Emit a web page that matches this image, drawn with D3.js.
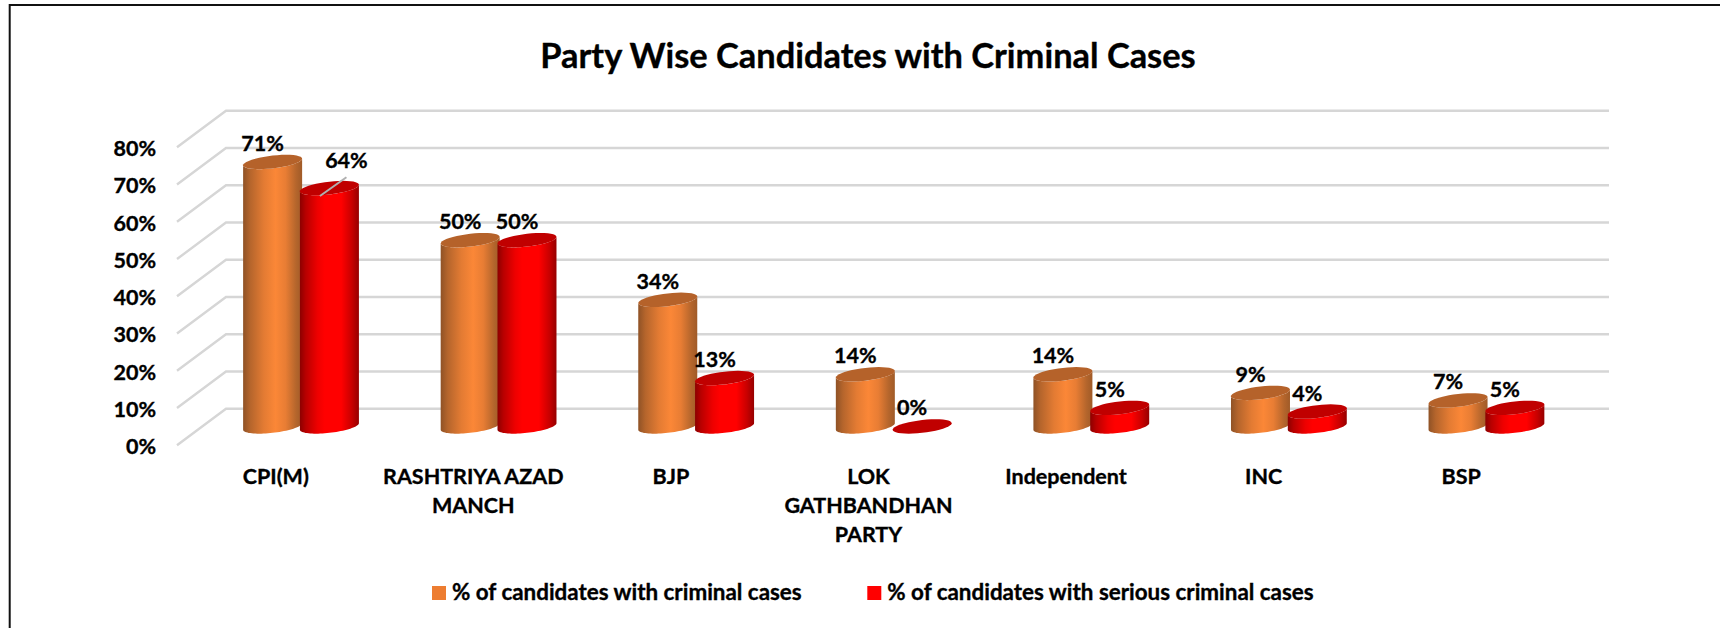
<!DOCTYPE html>
<html>
<head>
<meta charset="utf-8">
<script src="https://cdn.jsdelivr.net/npm/d3@7"></script>
<style>
    html, body { margin: 0; padding: 0; background: #fff; }
    svg { display: block; }
    text { font-family: Lato, "Open Sans", sans-serif; font-weight: 700; fill: #000; stroke: #000; stroke-width: 0.35px; }
</style>
</head>
<body>
<svg id="chart" width="1720" height="628"></svg>
<script>
const categories = ["CPI(M)", "RASHTRIYA AZAD MANCH", "BJP", "LOK GATHBANDHAN PARTY", "Independent", "INC", "BSP"];
const categoryLines = [["CPI(M)"], ["RASHTRIYA AZAD", "MANCH"], ["BJP"], ["LOK", "GATHBANDHAN", "PARTY"], ["Independent"], ["INC"], ["BSP"]];
const criminalCases = [71, 50, 34, 14, 14, 9, 7];
const seriousCases = [64, 50, 13, 0, 5, 4, 5];
const yTicks = [0, 10, 20, 30, 40, 50, 60, 70, 80];
const seriesNames = ["% of candidates with criminal cases", "% of candidates with serious criminal cases"];

const svg = d3.select("#chart");

// frame: only the top and left edges show in the picture
svg.append("path").attr("d", "M9.7,628V5H1720").attr("fill", "none").attr("stroke", "#111").attr("stroke-width", 2);

svg.append("text")
    .attr("x", 868).attr("y", 68)
    .attr("text-anchor", "middle")
    .style("font-size", "34.4px")
    .text("Party Wise Candidates with Criminal Cases");

// front plane of the 3d box, the back wall is that plane moved by depth
const depth = {x: 49, y: -36.6};
const x = d3.scaleBand().domain(categories).range([177, 1560]);
const y = d3.scaleLinear().domain([0, 80]).range([445.3, 147.3]);

const grid = svg.append("g").attr("fill", "none").attr("stroke", "#d6d6d6").attr("stroke-width", 2.4);
grid.selectAll("path")
    .data(yTicks)
    .enter()
    .append("path")
    .attr("d", d => `M${x.range()[0]},${y(d)}l${depth.x},${depth.y}L${x.range()[1] + depth.x},${y(d) + depth.y}`);

const yAxis = d3.axisLeft(y).tickValues(yTicks).tickFormat(d => d + "%").tickSize(0).tickPadding(21);
svg.append("g")
    .attr("transform", `translate(${x.range()[0]},0)`)
    .call(yAxis)
    .call(g => g.select(".domain").remove())
    .call(g => g.selectAll("text").attr("dy", "0.39em").style("font-size", "21.5px"));

// gradients for the cylinder sides
const defs = svg.append("defs");
function addGradient(id, stops) {
    defs.append("linearGradient").attr("id", id)
        .selectAll("stop")
        .data(stops)
        .enter()
        .append("stop")
        .attr("offset", d => d[0])
        .attr("stop-color", d => d[1]);
}
addGradient("side-orange", [[0, "#8f5226"], [0.12, "#b5652c"], [0.35, "#e37b33"], [0.55, "#fb8737"], [0.72, "#e87d34"], [0.9, "#b4652c"], [1, "#a05b28"]]);
addGradient("side-red", [[0, "#8c0000"], [0.1, "#b80000"], [0.3, "#ee0000"], [0.42, "#ff0000"], [0.7, "#ff0000"], [0.88, "#c80000"], [1, "#960000"]]);

const barDepth = 0.515;
const barWidth = 59;
const rx = barWidth / 2, ry = 6.4, tilt = 3.3;
const series = [
    {name: seriesNames[0], values: criminalCases, side: "url(#side-orange)", top: "#b5622a", offset: -28.4},
    {name: seriesNames[1], values: seriousCases, side: "url(#side-red)", top: "#c00000", offset: 28.4}
];
const ellipse = d3.line().x(d => d[0]).y(d => d[1]);

function arcPoints(cx, cy, from, to) {
    return d3.range(0, 41).map(i => {
        const t = from + (to - from) * i / 40;
        return [cx + rx * Math.cos(t), cy + ry * Math.sin(t) - tilt * Math.cos(t)];
    });
}

function barCenter(cat, s) {
    return x(cat) + x.bandwidth() / 2 + barDepth * depth.x + s.offset;
}

series.forEach(s => {
    const bars = svg.append("g");
    s.values.forEach((v, i) => {
        const cx = barCenter(categories[i], s);
        const base = y(0) + barDepth * depth.y;
        const top = y(v) + barDepth * depth.y;
        if (v > 0) {
            const sidePts = arcPoints(cx, base, 0, Math.PI).concat(arcPoints(cx, top, Math.PI, 0));
            bars.append("path").attr("d", ellipse(sidePts) + "Z").attr("fill", s.side);
        }
        bars.append("path").attr("d", ellipse(arcPoints(cx, top, 0, 2 * Math.PI)) + "Z").attr("fill", s.top);
    });
});

// data labels sit up and left of each bar top, the 64% one was dragged out in the original
const labels = svg.append("g").attr("text-anchor", "middle").style("font-size", "21.5px");
series.forEach(s => {
    s.values.forEach((v, i) => {
        const moved = s === series[1] && i === 0;
        labels.append("text")
            .attr("x", barCenter(categories[i], s) + (moved ? 17 : -10))
            .attr("y", y(v) + barDepth * depth.y + (moved ? -20.5 : -11))
            .text(v + "%");
    });
});

// leader line of the moved label
const leadX = barCenter(categories[0], series[1]);
const leadY = y(seriousCases[0]) + barDepth * depth.y;
svg.append("line")
    .attr("x1", leadX + 17).attr("y1", leadY - 10.8)
    .attr("x2", leadX - 9.5).attr("y2", leadY + 8)
    .attr("stroke", "#b0b0b0").attr("stroke-width", 2);

// category labels
const catLabels = svg.append("g").attr("text-anchor", "middle").style("font-size", "21.5px");
categoryLines.forEach((lines, i) => {
    const t = catLabels.append("text");
    lines.forEach((line, j) => {
        t.append("tspan")
            .attr("x", x(categories[i]) + x.bandwidth() / 2)
            .attr("y", 484.3 + j * 28.6)
            .text(line);
    });
});

// legend
const legendX = [432, 867.3];
const legendColors = ["#ed7d31", "#ff0000"];
seriesNames.forEach((name, i) => {
    svg.append("rect").attr("x", legendX[i]).attr("y", 586).attr("width", 14).attr("height", 14).attr("fill", legendColors[i]);
    svg.append("text").attr("x", legendX[i] + 20).attr("y", 600).style("font-size", "22.4px").text(name);
});
</script>
</body>
</html>
